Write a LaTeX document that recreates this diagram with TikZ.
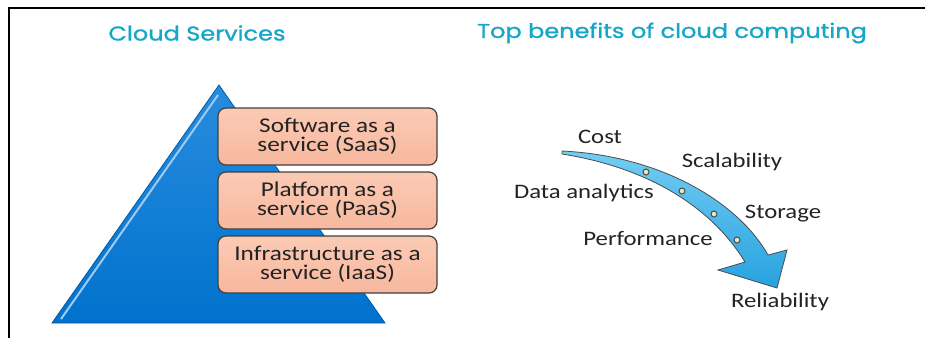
\documentclass[tikz,border=0pt]{standalone}
\usepackage{fontspec}
\setmainfont{Carlito}
\newfontfamily\bodyfont[FakeStretch=1.2]{Carlito}
\newfontfamily\titlefont[FakeStretch=1.2,FakeBold=1.2]{Poppins}
\usetikzlibrary{positioning}

\definecolor{titlecyan}{RGB}{22,166,200}
\definecolor{pyrtop}{RGB}{40,140,222}
\definecolor{pyrbot}{RGB}{0,114,205}
\definecolor{peachlight}{RGB}{252,202,180}
\definecolor{peachdark}{RGB}{247,184,158}
\definecolor{arrowlight}{RGB}{115,205,242}
\definecolor{arrowdark}{RGB}{38,162,224}
\definecolor{dotfill}{RGB}{232,232,190}
\definecolor{inktext}{RGB}{35,35,35}

\begin{document}
\begin{tikzpicture}[x=0.5pt,y=-0.5pt,node distance=32pt,on grid,
   title/.style={font=\titlefont\fontsize{10}{12}\selectfont,text=titlecyan},
   layer/.style={draw=black!75,line width=0.6pt,rounded corners=4pt,
      minimum width=109.5pt,minimum height=28.5pt,inner sep=0pt,
      top color=peachlight,bottom color=peachdark,text=inktext,
      align=center,font=\bodyfont\fontsize{10.5}{9.5}\selectfont},
   benefit/.style={font=\bodyfont\fontsize{10.3}{12}\selectfont,text=inktext},
   stop/.style={circle,draw=black!70,fill=dotfill,line width=0.5pt,
      inner sep=0pt,minimum size=3pt}]
   \useasboundingbox (0,0) rectangle (925,338);
   \draw[line width=1pt] (8.5,338) -- (8.5,8) -- (925,8);

   % titles
   \node[title] (services) at (197,33) {Cloud Services};
   \node[title] (benefits) at (672,33) {Top benefits of cloud computing};

   % pyramid
   \coordinate (apex) at (219,85);
   \coordinate (baseL) at (52,323);
   \coordinate (baseR) at (385,323);
   \shade[top color=pyrtop,bottom color=pyrbot,draw=pyrbot!80!black,line width=0.4pt]
      (apex) -- (baseR) -- (baseL) -- cycle;
   \draw[white!55!pyrtop,line width=1pt] (218,95) -- (61,319);

   \node[layer] (saas) at (327.5,136.5) {Software as a\\service (SaaS)};
   \node[layer] (paas) [below=of saas] {Platform as a\\service (PaaS)};
   \node[layer] (iaas) [below=of paas] {Infrastructure as a\\service (IaaS)};

   % benefits arrow
   \shade[top color=arrowlight,bottom color=arrowdark,draw=black!70,line width=0.4pt]
      (562,151) .. controls (665,156) and (740,205) .. (768,255)
      -- (787,250) -- (777,288) -- (718,270) -- (745,262)
      .. controls (712,208) and (650,168) .. (562,154) -- cycle;
   \node[stop] (s1) at (646,172) {};
   \node[stop] (s2) at (682,191) {};
   \node[stop] (s3) at (714,214) {};
   \node[stop] (s4) at (737,240) {};

   \node[benefit] (cost) at (600,137) {Cost};
   \node[benefit] (scal) at (732,162) {Scalability};
   \node[benefit] (data) at (584,193) {Data analytics};
   \node[benefit] (stor) at (783,214) {Storage};
   \node[benefit] (perf) at (648,239) {Performance};
   \node[benefit] (reli) at (780,302) {Reliability};
\end{tikzpicture}
\end{document}
